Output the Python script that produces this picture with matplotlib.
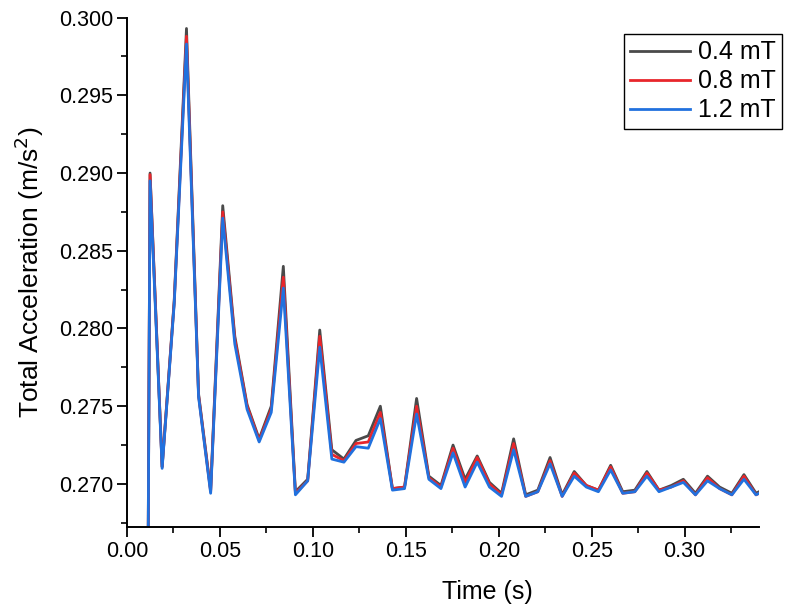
import matplotlib
matplotlib.use("Agg")
import matplotlib.pyplot as plt
from matplotlib.ticker import MultipleLocator, FormatStrFormatter

plt.rcParams['font.family'] = ['Liberation Sans', 'DejaVu Sans']

time_s = [0.0, 0.0124, 0.0189, 0.0254, 0.0320, 0.0385, 0.0450, 0.0515, 0.0580, 0.0646,
          0.0711, 0.0776, 0.0841, 0.0906, 0.0972, 0.1037, 0.1102, 0.1167, 0.1232,
          0.1298, 0.1363, 0.1428, 0.1493, 0.1558, 0.1624, 0.1689, 0.1754, 0.1819,
          0.1884, 0.1950, 0.2015, 0.2080, 0.2145, 0.2210, 0.2276, 0.2341, 0.2406,
          0.2471, 0.2536, 0.2602, 0.2667, 0.2732, 0.2797, 0.2862, 0.2928, 0.2993,
          0.3058, 0.3123, 0.3188, 0.3254, 0.3319, 0.3384, 0.3449]

acc_04 = [0.0, 0.2900, 0.2711, 0.2818, 0.2993, 0.2758, 0.2696, 0.2879, 0.2795, 0.2751,
          0.2729, 0.2750, 0.2840, 0.2695, 0.2703, 0.2799, 0.2722, 0.2716, 0.2728,
          0.2731, 0.2750, 0.2697, 0.2698, 0.2755, 0.2705, 0.2699, 0.2725, 0.2703,
          0.2718, 0.2701, 0.2694, 0.2729, 0.2693, 0.2696, 0.2717, 0.2693, 0.2708,
          0.2699, 0.2696, 0.2712, 0.2695, 0.2696, 0.2708, 0.2696, 0.2699, 0.2703,
          0.2694, 0.2705, 0.2698, 0.2694, 0.2706, 0.2694, 0.2698]

acc_08 = [0.0, 0.2899, 0.2711, 0.2817, 0.2988, 0.2757, 0.2695, 0.2875, 0.2793, 0.2750,
          0.2728, 0.2748, 0.2833, 0.2694, 0.2702, 0.2795, 0.2719, 0.2715, 0.2726,
          0.2727, 0.2746, 0.2697, 0.2698, 0.2750, 0.2704, 0.2698, 0.2723, 0.2701,
          0.2717, 0.2700, 0.2693, 0.2726, 0.2692, 0.2695, 0.2715, 0.2692, 0.2707,
          0.2699, 0.2696, 0.2711, 0.2694, 0.2695, 0.2707, 0.2696, 0.2698, 0.2702,
          0.2693, 0.2704, 0.2697, 0.2693, 0.2705, 0.2693, 0.2697]

acc_12 = [0.0, 0.2895, 0.2710, 0.2816, 0.2983, 0.2756, 0.2694, 0.2871, 0.2790, 0.2748,
          0.2727, 0.2746, 0.2826, 0.2693, 0.2702, 0.2788, 0.2716, 0.2714, 0.2724,
          0.2723, 0.2742, 0.2696, 0.2697, 0.2745, 0.2703, 0.2697, 0.2720, 0.2698,
          0.2714, 0.2698, 0.2692, 0.2722, 0.2692, 0.2695, 0.2713, 0.2692, 0.2705,
          0.2698, 0.2695, 0.2709, 0.2694, 0.2695, 0.2705, 0.2695, 0.2698, 0.2701,
          0.2693, 0.2702, 0.2697, 0.2693, 0.2703, 0.2693, 0.2697]

labels = ["0.4 mT", "0.8 mT", "1.2 mT"]
colors = ["#4a4a4a", "#e8262b", "#2171de"]

fig = plt.figure(figsize=(7.87, 6.11), dpi=100)
ax = fig.add_axes([127/787, 1 - 527/611, (759 - 127)/787, (527 - 17.6)/611])

for y, lab, c in zip([acc_04, acc_08, acc_12], labels, colors):
    ax.plot(time_s, y, color=c, lw=2.0, label=lab)

ax.set_xlim(0, 0.34)
ax.set_ylim(0.26723, 0.300)
ax.xaxis.set_major_locator(MultipleLocator(0.05))
ax.xaxis.set_minor_locator(MultipleLocator(0.025))
ax.yaxis.set_major_locator(MultipleLocator(0.005))
ax.yaxis.set_minor_locator(MultipleLocator(0.0025))
ax.xaxis.set_major_formatter(FormatStrFormatter('%.2f'))
ax.yaxis.set_major_formatter(FormatStrFormatter('%.3f'))

for s in ['top', 'right']:
    ax.spines[s].set_visible(False)
for s in ['left', 'bottom']:
    ax.spines[s].set_linewidth(1.4)

ax.tick_params(which='major', direction='out', length=7, width=1.3, labelsize=15.5, pad=3)
ax.tick_params(which='minor', direction='out', length=4, width=1.2)

ax.set_xlabel("Time (s)", fontsize=18, labelpad=8)
ax.xaxis.set_label_coords((487 - 127) / 632, -0.105)
ax.set_ylabel("Total Acceleration (m/s$^2$)", fontsize=19, labelpad=9)

leg = fig.legend(loc='upper right', bbox_to_anchor=(782/787, 1 - 34/611),
                 bbox_transform=fig.transFigure, fontsize=18, frameon=True,
                 fancybox=False, edgecolor='black', framealpha=1,
                 handlelength=2.4, handletextpad=0.3, labelspacing=0.2,
                 borderpad=0.25, borderaxespad=0)
leg.get_frame().set_linewidth(1.0)
for h in leg.get_lines():
    h.set_linewidth(2.0)

fig.savefig("out.png", dpi=100)
